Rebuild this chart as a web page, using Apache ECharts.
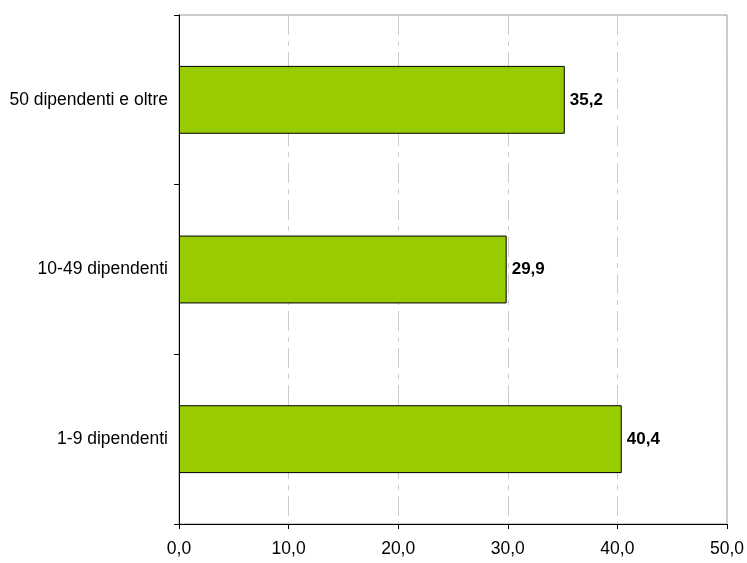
<!DOCTYPE html>
<html>
<head>
<meta charset="utf-8">
<script src="https://cdn.jsdelivr.net/npm/echarts@6/dist/echarts.min.js"></script>
<style>html,body{margin:0;padding:0;background:#fff}#c{width:747px;height:563px}</style>
</head>
<body>
<div id="c"></div>
<script>
var categories = ['1-9 dipendenti', '10-49 dipendenti', '50 dipendenti e oltre'];
var values = [40.4, 29.9, 35.2];
var xTicks = { min: 0, max: 50, interval: 10 };

var chart = echarts.init(document.getElementById('c'));
chart.setOption({
  animation: false,
  textStyle: { fontFamily: 'Liberation Sans, Arial, sans-serif' },
  grid: { left: 179, right: 19, top: 15, bottom: 39, show: true, borderColor: '#999', borderWidth: 1, backgroundColor: 'transparent' },
  xAxis: {
    type: 'value', min: xTicks.min, max: xTicks.max, interval: xTicks.interval,
    axisLine: { show: true, lineStyle: { color: '#000', width: 1 } },
    axisTick: { show: true, length: 5, lineStyle: { color: '#000' } },
    axisLabel: { color: '#000', fontSize: 17.5, margin: 16, formatter: function (v) { return v.toFixed(1).replace('.', ','); } },
    splitLine: { show: true, lineStyle: { color: '#ccc', width: 1, type: [20, 6, 5, 6] } }
  },
  yAxis: {
    type: 'category', data: categories,
    axisLine: { show: true, lineStyle: { color: '#000', width: 1 } },
    axisTick: { show: true, length: 5, lineStyle: { color: '#000' } },
    axisLabel: { color: '#000', fontSize: 17.5, margin: 11 },
    splitLine: { show: false }
  },
  series: [{
    type: 'bar', data: values, barWidth: '40%',
    itemStyle: { color: '#99CC00', borderColor: '#000', borderWidth: 1 },
    label: { show: true, position: 'right', distance: 5, color: '#000', fontWeight: 'bold', fontSize: 17,
      formatter: function (p) { return p.value.toFixed(1).replace('.', ','); } }
  }]
});
</script>
</body>
</html>
